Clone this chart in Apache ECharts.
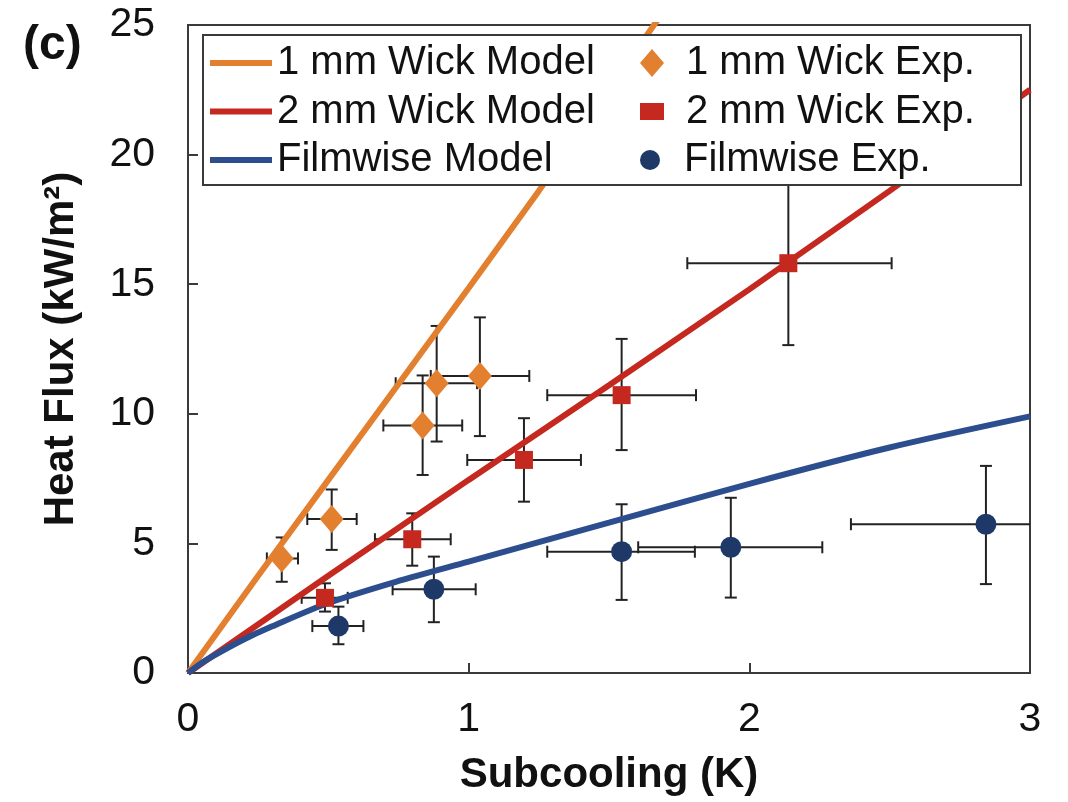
<!DOCTYPE html>
<html>
<head>
<meta charset="utf-8">
<script src="https://cdn.jsdelivr.net/npm/echarts@6/dist/echarts.min.js"></script>
<style>
html,body{margin:0;padding:0;background:#fff;}
#chart{width:1068px;height:802px;}
</style>
</head>
<body>
<div id="chart"></div>
<script>
// ---- Data ----
var xTicks = [0, 1, 2, 3];
var yTicks = [0, 5, 10, 15, 20, 25];

// Model curves
var wick1ModelX = [0, 0.25, 0.5, 0.75, 1.0, 1.25, 1.5, 1.75];
var wick1ModelY = [0, 3.75, 7.45, 11.15, 14.85, 18.6, 22.5, 26.4];
var wick2ModelX = [0, 0.5, 1.0, 1.5, 2.0, 2.5, 3.0];
var wick2ModelY = [0, 3.75, 7.45, 11.1, 14.8, 18.6, 22.5];
var filmModelX = [0, 0.05, 0.1, 0.2, 0.3, 0.5, 0.75, 1.0, 1.5, 2.0, 2.5, 3.0];
var filmModelY = [0, 0.4, 0.72, 1.3, 1.8, 2.7, 3.55, 4.3, 5.8, 7.3, 8.7, 9.9];

// Experiments (center values)
var wick1ExpX = [0.334, 0.512, 0.836, 0.886, 1.040];
var wick1ExpY = [4.42, 5.94, 9.55, 11.18, 11.46];
var wick1XLo = [0.281, 0.425, 0.696, 0.740, 0.865];
var wick1XHi = [0.392, 0.601, 0.977, 1.030, 1.216];
var wick1YLo = [3.52, 4.75, 7.64, 8.93, 9.14];
var wick1YHi = [5.23, 7.08, 11.48, 13.39, 13.72];

var wick2ExpX = [0.488, 0.799, 1.197, 1.545, 2.139];
var wick2ExpY = [2.90, 5.16, 8.22, 10.72, 15.81];
var wick2XLo = [0.405, 0.666, 0.995, 1.28, 1.779];
var wick2XHi = [0.569, 0.936, 1.40, 1.81, 2.507];
var wick2YLo = [2.37, 4.14, 6.61, 8.60, 12.65];
var wick2YHi = [3.46, 6.16, 9.83, 12.89, 18.96];

var filmExpX = [0.536, 0.876, 1.545, 1.934, 2.843];
var filmExpY = [1.81, 3.23, 4.68, 4.85, 5.74];
var filmXLo = [0.443, 0.729, 1.28, 1.604, 2.362];
var filmXHi = [0.625, 1.025, 1.806, 2.26, 3.32];
var filmYLo = [1.11, 1.96, 2.82, 2.91, 3.43];
var filmYHi = [2.56, 4.49, 6.51, 6.76, 7.99];

// ---- helpers ----
function pairs(xs, ys) { return xs.map(function (x, i) { return [x, ys[i]]; }); }
function errRows(xs, ys, xl, xh, yl, yh) {
  return xs.map(function (x, i) { return [x, ys[i], xl[i], xh[i], yl[i], yh[i]]; });
}
var allErr = [].concat(
  errRows(wick1ExpX, wick1ExpY, wick1XLo, wick1XHi, wick1YLo, wick1YHi),
  errRows(wick2ExpX, wick2ExpY, wick2XLo, wick2XHi, wick2YLo, wick2YHi),
  errRows(filmExpX, filmExpY, filmXLo, filmXHi, filmYLo, filmYHi)
);

var C_OR = '#E3802F', C_RED = '#C4281F', C_BLUE = '#2D4E8E', C_NAVY = '#1E3868';
var FONT = 'Liberation Sans, Arial, sans-serif';

function renderErr(params, api) {
  var x = api.value(0), y = api.value(1);
  var xl = api.value(2), xh = api.value(3), yl = api.value(4), yh = api.value(5);
  var pL = api.coord([xl, y]), pR = api.coord([xh, y]);
  var pB = api.coord([x, yl]), pT = api.coord([x, yh]);
  var cap = 6;
  var st = { stroke: '#222', lineWidth: 2 };
  var lines = [
    [pL, pR], [pB, pT],
    [[pL[0], pL[1] - cap], [pL[0], pL[1] + cap]],
    [[pR[0], pR[1] - cap], [pR[0], pR[1] + cap]],
    [[pT[0] - cap, pT[1]], [pT[0] + cap, pT[1]]],
    [[pB[0] - cap, pB[1]], [pB[0] + cap, pB[1]]]
  ];
  return {
    type: 'group',
    children: lines.map(function (l) {
      return { type: 'line', shape: { x1: l[0][0], y1: l[0][1], x2: l[1][0], y2: l[1][1] }, style: st };
    })
  };
}

var legText = { fontFamily: FONT, fontSize: 40, color: '#111', lineHeight: 40 };
var expLegText = { fontFamily: FONT, fontSize: 40, color: '#111', lineHeight: 40, padding: [0, 0, 0, 17] };

var chart = echarts.init(document.getElementById('chart'), null, { renderer: 'canvas' });
var option = {
  backgroundColor: '#fff',
  animation: false,
  textStyle: { fontFamily: FONT },
  title: {
    text: '(c)', left: 18, top: 17,
    textStyle: { fontFamily: FONT, fontSize: 48, fontWeight: 'bold', color: '#111' }
  },
  grid: {
    left: 188, right: 38, top: 25, bottom: 129,
    show: true, borderColor: '#3a3a3a', borderWidth: 2, backgroundColor: 'transparent'
  },
  xAxis: {
    type: 'value', min: 0, max: 3, interval: 1,
    name: 'Subcooling (K)', nameLocation: 'middle', nameGap: 81,
    nameTextStyle: { fontFamily: FONT, fontSize: 42, fontWeight: 'bold', color: '#111' },
    axisLine: { show: true, lineStyle: { color: '#3a3a3a', width: 2 } },
    axisTick: { show: true, inside: true, length: 10, lineStyle: { color: '#3a3a3a', width: 2 } },
    axisLabel: { fontFamily: FONT, fontSize: 41, color: '#111', margin: 26,
      formatter: function (v) { return xTicks.indexOf(v) >= 0 ? String(v) : ''; } },
    splitLine: { show: false }
  },
  yAxis: {
    type: 'value', min: 0, max: 25, interval: 5,
    name: 'Heat Flux (kW/m²)', nameLocation: 'middle', nameGap: 106,
    nameTextStyle: { fontFamily: FONT, fontSize: 42, fontWeight: 'bold', color: '#111' },
    axisLine: { show: true, lineStyle: { color: '#3a3a3a', width: 2 } },
    axisTick: { show: true, inside: true, length: 10, lineStyle: { color: '#3a3a3a', width: 2 } },
    axisLabel: { fontFamily: FONT, fontSize: 41, color: '#111', margin: 33,
      formatter: function (v) { return yTicks.indexOf(v) >= 0 ? String(v) : ''; } },
    splitLine: { show: false }
  },
  graphic: [{
    type: 'rect', left: 202, top: 34, z: 50,
    shape: { width: 818, height: 150 },
    style: { fill: '#fff', stroke: '#3a3a3a', lineWidth: 2 }
  }],
  legend: [{
    orient: 'vertical', left: 210, top: 43, padding: 0, z: 60,
    itemWidth: 62, itemHeight: 6, itemGap: 8.5, icon: 'rect',
    textStyle: legText,
    data: ['1 mm Wick Model', '2 mm Wick Model', 'Filmwise Model']
  }, {
    orient: 'vertical', left: 640, top: 43, padding: 0, z: 60,
    itemWidth: 24, itemHeight: 28, icon: 'diamond',
    textStyle: expLegText,
    data: ['1 mm Wick Exp.']
  }, {
    orient: 'vertical', left: 640, top: 91.5, padding: 0, z: 60,
    itemWidth: 24, itemHeight: 17, icon: 'rect',
    textStyle: expLegText,
    data: ['2 mm Wick Exp.']
  }, {
    orient: 'vertical', left: 640, top: 140, padding: 0, z: 60,
    itemWidth: 24, itemHeight: 20, icon: 'circle',
    textStyle: expLegText,
    data: ['Filmwise Exp.']
  }],
  series: [
    { type: 'custom', name: 'errors', renderItem: renderErr, data: allErr, clip: true, z: 1,
      encode: { x: 0, y: 1 }, silent: true },
    { type: 'line', name: '1 mm Wick Model', data: pairs(wick1ModelX, wick1ModelY), showSymbol: false,
      symbol: 'none', clip: true, z: 3, lineStyle: { color: C_OR, width: 6 }, itemStyle: { color: C_OR } },
    { type: 'line', name: '2 mm Wick Model', data: pairs(wick2ModelX, wick2ModelY), showSymbol: false,
      symbol: 'none', clip: true, z: 3, lineStyle: { color: C_RED, width: 6 }, itemStyle: { color: C_RED } },
    { type: 'line', name: 'Filmwise Model', data: pairs(filmModelX, filmModelY), showSymbol: false,
      symbol: 'none', smooth: 0.3, clip: true, z: 3, lineStyle: { color: C_BLUE, width: 6 }, itemStyle: { color: C_BLUE } },
    { type: 'scatter', name: '1 mm Wick Exp.', data: pairs(wick1ExpX, wick1ExpY), symbol: 'diamond',
      symbolSize: [24, 28], z: 4, itemStyle: { color: C_OR, opacity: 1 } },
    { type: 'scatter', name: '2 mm Wick Exp.', data: pairs(wick2ExpX, wick2ExpY), symbol: 'rect',
      symbolSize: 18, z: 4, itemStyle: { color: C_RED, opacity: 1 } },
    { type: 'scatter', name: 'Filmwise Exp.', data: pairs(filmExpX, filmExpY), symbol: 'circle',
      symbolSize: 21, z: 4, itemStyle: { color: C_NAVY, opacity: 1 } }
  ]
};
chart.setOption(option);
</script>
</body>
</html>
